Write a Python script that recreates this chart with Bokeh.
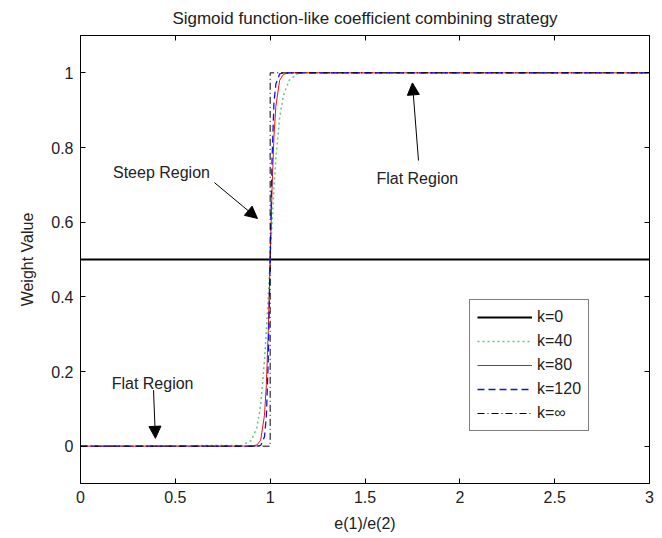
from bokeh.plotting import figure
from bokeh.models import Arrow, NormalHead, Label, LinearAxis, FixedTicker, Legend, LegendItem, Range1d
from bokeh.embed import file_html
from bokeh.resources import INLINE

# ---- data ----
x_k0 = [0, 3]
y_k0 = [0.5, 0.5]

x_k40 = [0, 0.85, 0.9, 0.93, 0.95, 0.97, 0.98, 0.99, 1.0, 1.01, 1.02, 1.03, 1.05, 1.07, 1.1, 1.15, 3]
y_k40 = [0, 0.002, 0.015, 0.05, 0.11, 0.23, 0.31, 0.40, 0.5, 0.6, 0.69, 0.77, 0.88, 0.94, 0.98, 1.0, 1.0]

x_k80 = [0, 0.9, 0.93, 0.95, 0.97, 0.98, 0.99, 1.0, 1.01, 1.02, 1.03, 1.05, 1.07, 1.1, 3]
y_k80 = [0, 0.0002, 0.003, 0.016, 0.083, 0.165, 0.31, 0.5, 0.69, 0.83, 0.91, 0.98, 0.996, 1.0, 1.0]

x_k120 = [0, 0.93, 0.95, 0.97, 0.98, 0.99, 1.0, 1.01, 1.02, 1.03, 1.05, 1.07, 3]
y_k120 = [0, 0.0002, 0.002, 0.025, 0.08, 0.23, 0.5, 0.77, 0.92, 0.97, 0.997, 1.0, 1.0]

x_kinf = [0, 1.0, 1.0, 3]
y_kinf = [0, 0, 1, 1]

series_labels = ["k=0", "k=40", "k=80", "k=120", "k=\u221e"]

x_ticks = [0, 0.5, 1, 1.5, 2, 2.5, 3]
x_tick_labels = ["0", "0.5", "1", "1.5", "2", "2.5", "3"]
y_ticks = [0, 0.2, 0.4, 0.6, 0.8, 1]
y_tick_labels = ["0", "0.2", "0.4", "0.6", "0.8", "1"]

FONT = "Liberation Sans"

p = figure(frame_width=569, frame_height=448,
           x_range=Range1d(0, 3), y_range=Range1d(-0.1, 1.1),
           output_backend="svg", toolbar_location=None,
           title="Sigmoid function-like coefficient combining strategy",
           min_border_left=80, min_border_right=6, min_border_top=35, min_border_bottom=54)

p.background_fill_color = "white"
p.border_fill_color = "white"
p.outline_line_color = "black"
p.outline_line_width = 1
p.xgrid.visible = False
p.ygrid.visible = False

p.title.align = "center"
p.title.vertical_align = "top"
p.title.text_font = FONT
p.title.text_font_style = "normal"
p.title.text_font_size = "17px"
p.title.text_color = "#222222"
p.title.standoff = 12
p.title.offset = 0

def style_axis(ax, ticks, labels, show_labels=True):
    ax.ticker = FixedTicker(ticks=ticks)
    ax.major_tick_in = 5
    ax.major_tick_out = 0
    ax.minor_tick_line_color = None
    ax.axis_line_color = "black"
    ax.major_tick_line_color = "black"
    if show_labels:
        ax.major_label_overrides = {t: l for t, l in zip(ticks, labels)}
        ax.major_label_text_font = FONT
        ax.major_label_text_color = "#222222"
        ax.major_label_text_font_size = "16px"
        ax.major_label_standoff = 7
    else:
        ax.major_label_text_color = None
        ax.major_label_text_font_size = "1px"
        ax.major_label_standoff = 0

style_axis(p.xaxis[0], x_ticks, x_tick_labels)
style_axis(p.yaxis[0], y_ticks, y_tick_labels)
p.xaxis.axis_label = "e(1)/e(2)"
p.yaxis.axis_label = "Weight Value"
for ax in (p.xaxis[0], p.yaxis[0]):
    ax.axis_label_text_font = FONT
    ax.axis_label_text_font_style = "normal"
    ax.axis_label_text_font_size = "16px"
    ax.axis_label_text_color = "#222222"
p.xaxis.axis_label_standoff = 9
p.yaxis.axis_label_standoff = 12

top_ax = LinearAxis()
style_axis(top_ax, x_ticks, x_tick_labels, show_labels=False)
p.add_layout(top_ax, "above")
right_ax = LinearAxis()
style_axis(right_ax, y_ticks, y_tick_labels, show_labels=False)
p.add_layout(right_ax, "right")

# ---- lines ----
r0 = p.line(x_k0, y_k0, line_color="black", line_width=2.2)
r40 = p.line(x_k40, y_k40, line_color="#55cc77", line_width=1.5, line_dash="2 3")
r80 = p.line(x_k80, y_k80, line_color="#ee1111", line_width=1)
r120 = p.line(x_k120, y_k120, line_color="#1111ee", line_width=1.3, line_dash="7 4")
rinf = p.line(x_kinf, y_kinf, line_color="black", line_width=1, line_dash="7 3 1 3")

legend = Legend(items=[LegendItem(label=l, renderers=[r]) for l, r in
                       zip(series_labels, [r0, r40, r80, r120, rinf])],
                location=(389, 52))
legend.border_line_color = "black"
legend.border_line_width = 1
legend.background_fill_color = "white"
legend.background_fill_alpha = 1
legend.label_text_font = FONT
legend.label_text_font_size = "16px"
legend.label_text_color = "#222222"
legend.glyph_width = 55
legend.glyph_height = 20
legend.label_height = 20
legend.spacing = 4
legend.padding = 7
legend.label_standoff = 5
legend.margin = 0
p.add_layout(legend)

# ---- annotations ----
def add_arrow(xs, ys, xe, ye):
    p.add_layout(Arrow(end=NormalHead(size=12, fill_color="black", line_color="black"),
                       x_start=xs, y_start=ys, x_end=xe, y_end=ye,
                       line_color="black", line_width=1))

def add_label(x, y, text):
    p.add_layout(Label(x=x, y=y, text=text, text_align="center", text_baseline="middle",
                       text_font=FONT, text_font_size="16px", text_color="#222222"))

add_label(0.427, 0.733, "Steep Region")
add_arrow(0.706, 0.706, 0.933, 0.610)
add_label(1.776, 0.717, "Flat Region")
add_arrow(1.782, 0.765, 1.750, 0.973)
add_label(0.380, 0.168, "Flat Region")
add_arrow(0.385, 0.150, 0.395, 0.021)

open("out.html", "w").write(file_html(p, INLINE))
